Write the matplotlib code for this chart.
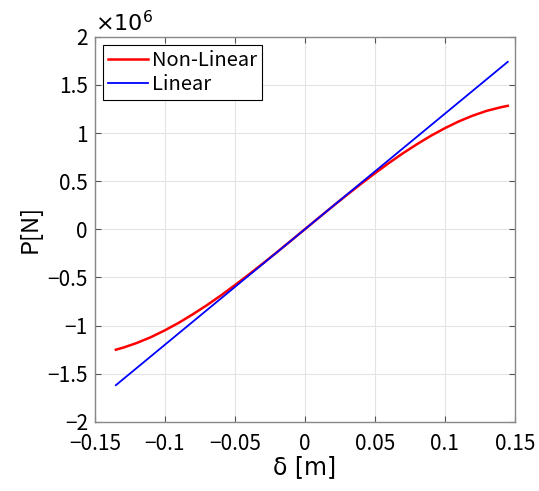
import matplotlib.pyplot as plt
import numpy as np

plt.rcParams['font.family'] = ['Noto Sans CJK JP', 'DejaVu Sans']
plt.rcParams['axes.unicode_minus'] = True

# displacement [m] and load [N]
delta = [-0.135, -0.13, -0.12, -0.11, -0.1, -0.09, -0.08, -0.07, -0.06, -0.05,
         -0.04, -0.03, -0.02, -0.01, 0.0, 0.01, 0.02, 0.03, 0.04, 0.05,
         0.06, 0.07, 0.08, 0.09, 0.1, 0.11, 0.12, 0.13, 0.14, 0.145]
p_nonlinear = [-1.251e6, -1.231e6, -1.181e6, -1.121e6, -1.050e6, -0.971e6,
               -0.883e6, -0.789e6, -0.688e6, -0.581e6, -0.470e6, -0.356e6,
               -0.239e6, -0.120e6, 0.0, 0.120e6, 0.239e6, 0.356e6, 0.470e6,
               0.581e6, 0.688e6, 0.789e6, 0.883e6, 0.971e6, 1.050e6, 1.121e6,
               1.181e6, 1.231e6, 1.268e6, 1.283e6]
delta_lin = [-0.135, 0.145]
p_linear = [-1.62e6, 1.74e6]

fig = plt.figure(figsize=(5.39, 4.91), dpi=100)
ax = fig.add_axes([0.176, 0.141, 0.779, 0.784])

ax.plot(delta, p_nonlinear, color='red', lw=1.8, label='Non-Linear')
ax.plot(delta_lin, p_linear, color='blue', lw=1.3, label='Linear')

ax.set_xlim(-0.15, 0.15)
ax.set_ylim(-2e6, 2e6)
ax.set_xticks(np.arange(-0.15, 0.151, 0.05))
ax.set_xticklabels(['−0.15', '−0.1', '−0.05', '0', '0.05', '0.1', '0.15'])
ax.set_yticks(np.arange(-2e6, 2.01e6, 0.5e6))
ax.set_yticklabels(['−2', '−1.5', '−1', '−0.5', '0', '0.5', '1', '1.5', '2'])
ax.text(0.0, 1.005, r'$\times 10^6$', transform=ax.transAxes, fontsize=16,
        ha='left', va='bottom', family='DejaVu Sans')

ax.grid(True, color='#e3e3e3', lw=0.8)
ax.set_axisbelow(True)
ax.tick_params(direction='in', top=True, right=True, labelsize=15,
               color='#555555', length=4)
ax.tick_params(axis='x', pad=8)
ax.tick_params(axis='y', pad=5)
for s in ax.spines.values():
    s.set_color('#888888')
    s.set_linewidth(1.0)

ax.set_xlabel('δ [m]', fontsize=17, family='DejaVu Sans', labelpad=0)
ax.set_ylabel('P[N]', fontsize=17, labelpad=4)

leg = ax.legend(loc='upper left', fontsize=14.5, fancybox=False, framealpha=1,
                edgecolor='black', handlelength=2.0, handletextpad=0.2,
                borderpad=0.25, labelspacing=0.15, borderaxespad=0.4)
leg.get_frame().set_linewidth(0.8)

fig.savefig('out.png', dpi=100)
